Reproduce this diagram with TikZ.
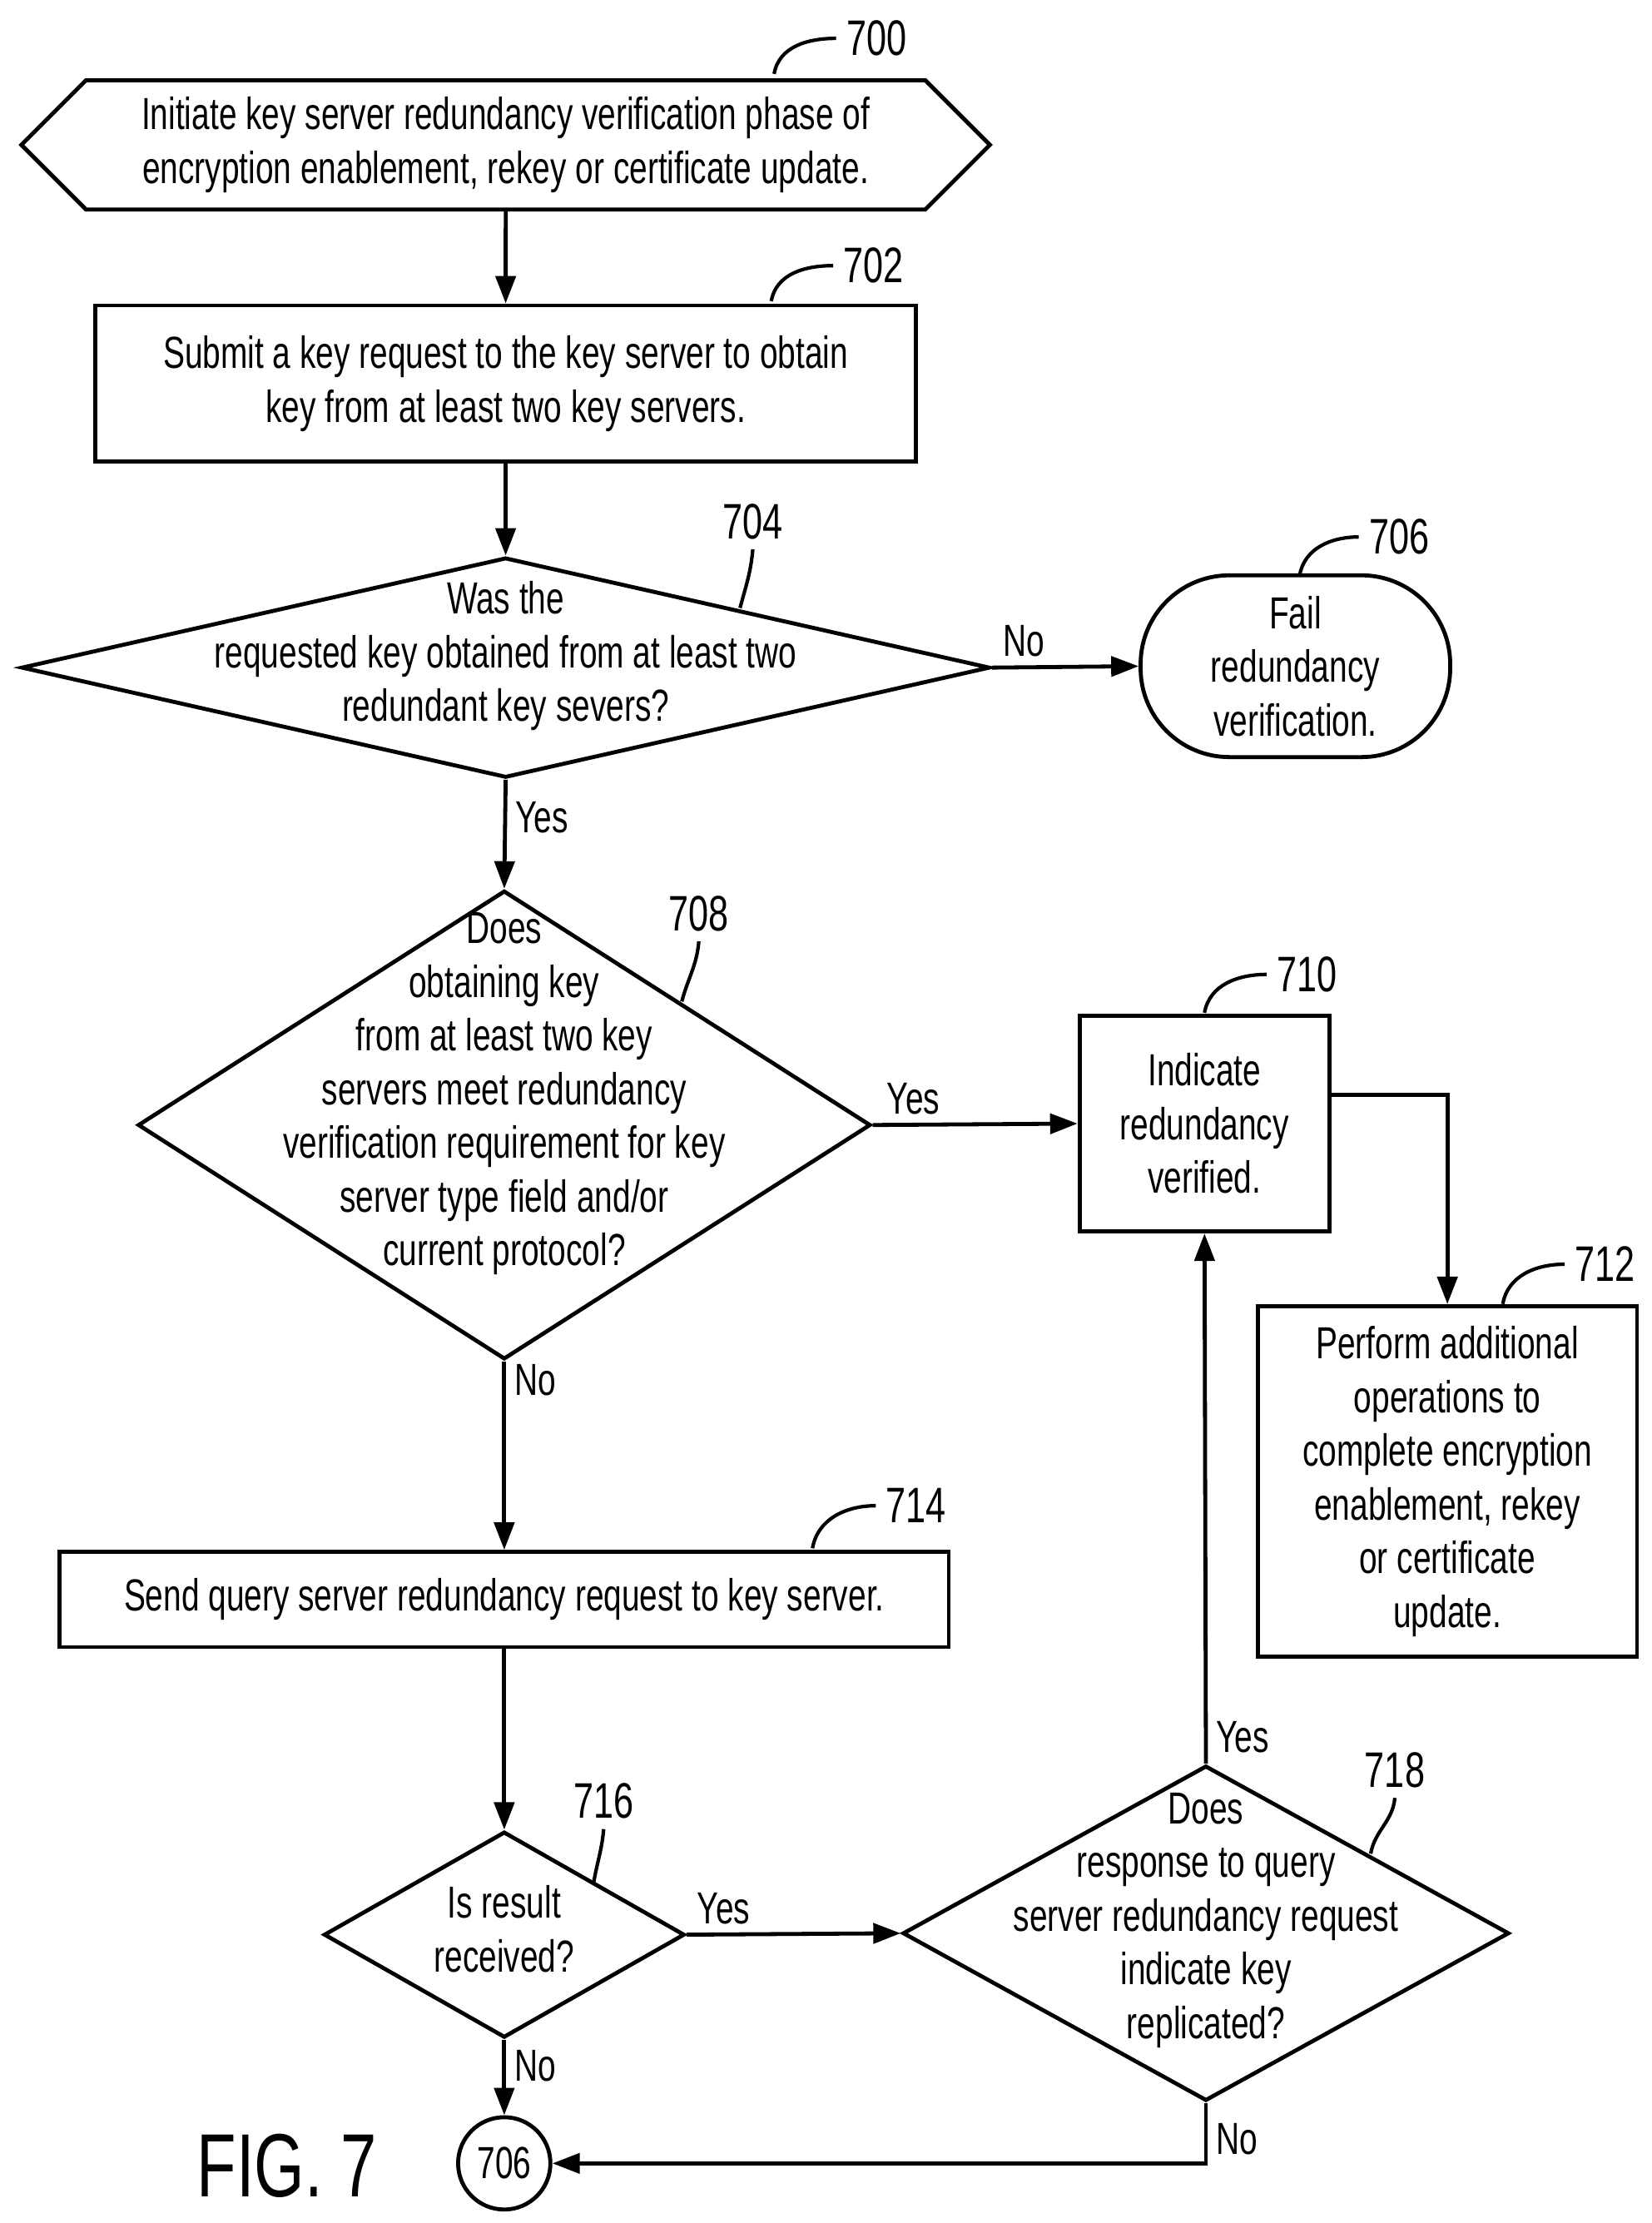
\documentclass[tikz,border=0pt]{standalone}
\usepackage{fontspec}
\setmainfont{Liberation Sans}[FakeStretch=0.72]
\usetikzlibrary{shapes.geometric,shapes.symbols,arrows.meta}
\begin{document}
\begin{tikzpicture}[x=0.02cm,y=-0.02cm,line width=1.6pt,
    font=\fontsize{18}{21.5}\selectfont,
    box/.style={draw,rectangle,align=center,inner sep=2pt},
    dec/.style={draw,diamond,align=center,inner sep=0pt},
    arr/.style={-{Triangle[length=11pt,width=8pt]}},
    lbl/.style={font=\fontsize{20}{22}\selectfont},
    ref/.style={line width=1.4pt}]
    \useasboundingbox (0,0) rectangle (1163,1565);

    % Start
    \node[draw,signal,signal to=east and west,signal pointer angle=90,
        minimum width=13.64cm,minimum height=1.82cm,align=center,inner sep=0pt]
        (n700) at (356,102) {Initiate key server redundancy verification phase of\\encryption enablement, rekey or certificate update.};

    % Process boxes
    \node[box,minimum width=11.56cm,minimum height=2.2cm] (n702) at (356,270)
        {Submit a key request to the key server to obtain\\key from at least two key servers.};
    \node[box,minimum width=3.52cm,minimum height=3.04cm] (n710) at (848,791)
        {Indicate\\redundancy\\verified.};
    \node[box,minimum width=5.34cm,minimum height=4.94cm] (n712) at (1019,1043)
        {Perform additional\\operations to\\complete encryption\\enablement, rekey\\or certificate\\update.};
    \node[box,minimum width=12.52cm,minimum height=1.34cm] (n714) at (355,1126)
        {Send query server redundancy request to key server.};

    % Terminator
    \node[draw,rectangle,rounded corners=1.25cm,minimum width=4.36cm,minimum height=2.56cm,align=center]
        (n706) at (912,469) {Fail\\redundancy\\verification.};
    \node[draw,circle,minimum size=1.3cm,inner sep=0pt] (c706) at (355,1523) {706};

    % Decisions
    \node[dec,minimum width=13.64cm,minimum height=3.1cm] (n704) at (356,470) {};
    \node[align=center] at (356,462) {Was the\\requested key obtained from at least two\\redundant key severs?};
    \node[dec,minimum width=10.32cm,minimum height=6.6cm] (n708) at (355,792) {};
    \node[align=center] at (355,770) {Does\\obtaining key\\from at least two key\\servers meet redundancy\\verification requirement for key\\server type field and/or\\current protocol?};
    \node[dec,minimum width=5.08cm,minimum height=2.9cm] (n716) at (355,1362) {};
    \node[align=center] at (355,1358) {Is result\\received?};
    \node[dec,minimum width=8.54cm,minimum height=4.72cm] (n718) at (849,1361) {};
    \node[align=center] at (849,1352) {Does\\response to query\\server redundancy request\\indicate key\\replicated?};

    % Connectors
    \draw[arr] (n700) -- (n702);
    \draw[arr] (n702) -- (n704);
    \draw[arr] (n704.east) -- node[above,pos=0.15,xshift=4pt] {No} (n706.west);
    \draw[arr] (n704.south) -- node[right,pos=0.35] {Yes} (n708.north);
    \draw[arr] (n708.east) -- node[above,pos=0.15,xshift=4pt] {Yes} (n710.west);
    \draw[arr] (n710.east |- 0,771) -| (n712.north);
    \draw[arr] (n708.south) -- node[right,pos=0.1] {No} (n714.north);
    \draw[arr] (n714.south) -- (n716.north);
    \draw[arr] (n716.east) -- node[above,pos=0.15,xshift=2pt] {Yes} (n718.west);
    \draw[arr] (n718.north) -- node[right,pos=0.05] {Yes} (n710.south);
    \draw[arr] (n716.south) -- node[right,pos=0.35] {No} (c706.north);
    \draw[arr] (n718.south) |- node[right,pos=0.3] {No} (c706.east);

    % Reference numerals
    \node[lbl] (r700) at (617,27) {700};
    \draw[ref] (545,52) to[out=80,in=180] (r700.west);
    \node[lbl] (r702) at (615,187) {702};
    \draw[ref] (543,212) to[out=80,in=180] (r702.west);
    \node[lbl] (r704) at (530,367) {704};
    \draw[ref] (521,428) to[out=75,in=-95] (r704.south);
    \node[lbl] (r706) at (985,378) {706};
    \draw[ref] (915,405) to[out=80,in=180] (r706.west);
    \node[lbl] (r708) at (492,643) {708};
    \draw[ref] (480,705) to[out=75,in=-95] (r708.south);
    \node[lbl] (r710) at (920,686) {710};
    \draw[ref] (848,713) to[out=80,in=180] (r710.west);
    \node[lbl] (r712) at (1130,890) {712};
    \draw[ref] (1058,918) to[out=80,in=180] (r712.west);
    \node[lbl] (r714) at (645,1060) {714};
    \draw[ref] (572,1090) to[out=80,in=180] (r714.west);
    \node[lbl] (r716) at (425,1268) {716};
    \draw[ref] (418,1325) to[out=80,in=-95] (r716.south);
    \node[lbl] (r718) at (982,1246) {718};
    \draw[ref] (965,1305) to[out=80,in=-95] (r718.south);

    \node[font=\fontsize{36}{40}\selectfont] (fig) at (202,1525) {FIG. 7};
\end{tikzpicture}
\end{document}
